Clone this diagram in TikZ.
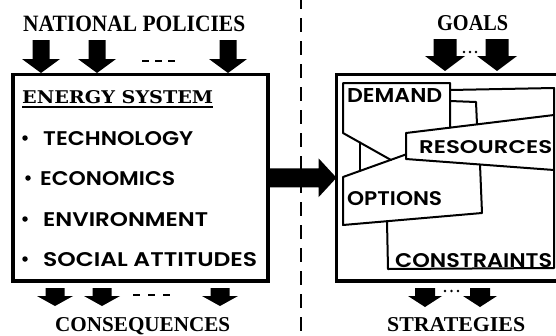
\documentclass[tikz,border=0pt]{standalone}
\usepackage{fontspec}
\usepackage{graphicx}
\usetikzlibrary{calc}
\setmainfont{Liberation Serif}
\newfontfamily\geo{Poppins}[BoldFont={Poppins SemiBold}]
\newfontfamily\slab{DejaVu Serif}
% scale a line of capitals to a given width and cap height
\newcommand{\fitbox}[3]{\resizebox{#1pt}{#2pt}{#3}}
\begin{document}
\begin{tikzpicture}[x=1pt,y=-1pt,
  heading/.style={anchor=base west, inner sep=0pt, font=\bfseries},
  label/.style={anchor=base west, inner sep=0pt, font=\geo\bfseries},
  frame/.style={draw, line width=3.2pt, inner sep=0pt, outer sep=0pt, anchor=north west},
  part/.style={draw, line width=2pt, line join=round, line cap=round},
  bullet/.style={fill, circle, inner sep=0pt, minimum size=5.5pt},
  pics/downarrow/.style args={#1/#2/#3/#4}{code={
    \fill (-#1/2,0) -- (#1/2,0) -- (#1/2,#3) -- (#2/2,#3) -- (0,#4)
          -- (-#2/2,#3) -- (-#1/2,#3) -- cycle;}}
]
\useasboundingbox (0,0) rectangle (556,335);

% divider between the two halves
\draw[line width=1.6pt, dash pattern=on 14pt off 9pt] (301,-5) -- (301,340);

% ---------------- left half: the energy system ----------------
\node[heading] (policies) at (23,31) {\fitbox{222}{15.5}{NATIONAL POLICIES}};
\node[frame, minimum width=255pt, minimum height=206.5pt] (system) at (13,74.5) {};

\pic at (41,40) {downarrow=17/38/19/33};
\pic at (97,40) {downarrow=17/38/19/33};
\pic at (228,40) {downarrow=17/38/19/33};
\draw[line width=2.5pt, dash pattern=on 6.5pt off 6.5pt] (142,61) -- (175,61);

\node[anchor=base west, inner sep=0pt, font=\slab\bfseries] (es) at (22,103) {\fitbox{191}{13}{ENERGY SYSTEM}};
\draw[line width=2pt] ([yshift=-4pt]es.base west) -- ([yshift=-4pt]es.base east);

\node[bullet] (b1) at (25,138) {};
\node[label] (tech) at (43,145) {\fitbox{150}{14}{TECHNOLOGY}};
\node[bullet] (b2) at (28,178) {};
\node[label] (econ) at (40,185) {\fitbox{135}{14}{ECONOMICS}};
\node[bullet] (b3) at (25,219) {};
\node[label] (env) at (43,226) {\fitbox{165}{14}{ENVIRONMENT}};
\node[bullet] (b4) at (25,259) {};
\node[label] (soc) at (43,266) {\fitbox{214}{14}{SOCIAL ATTITUDES}};

\pic at (55,288) {downarrow=19/36/8/18};
\pic at (102,288) {downarrow=19/36/8/18};
\pic at (220,288) {downarrow=19/36/8/18};
\draw[line width=2.5pt, dash pattern=on 7pt off 8pt] (133,295) -- (170,295);
\node[heading] (conseq) at (55,331) {\fitbox{175}{14}{CONSEQUENCES}};

% ---------------- right half: the planning model ----------------
\node[heading] (goals) at (437,30) {\fitbox{71}{15}{GOALS}};
\node[frame, minimum width=230pt, minimum height=206.5pt] (plan) at (336.5,74.5) {};

\pic at (445,39) {downarrow=23/40/17/32};
\pic at (497,39) {downarrow=23/40/17/32};
\foreach \d in {464,470,476} \fill (\d,52) circle (1.4pt);

% linking arrow from the system to the model
\path (system.east) coordinate (a0) (plan.west) coordinate (a1);
\fill ($(a0)+(0,-9.5)$) -- ($(a1)+(-18,-9.5)$) -- ($(a1)+(-18,-19.5)$) -- (a1)
      -- ($(a1)+(-18,19.5)$) -- ($(a1)+(-18,9.5)$) -- ($(a0)+(0,9.5)$) -- cycle;

% model compartments
\draw[part] (450,127.7) -- (450,83) -- (343,83) -- (343,133) -- (391,160);
\draw[part] (360,142.4) -- (360,171);
\draw[part] (450,90) -- (554,88);
\draw[part] (450,101) -- (476,102) -- (477,124.4);
\draw[part] (554,88) -- (554,268) -- (388,269) -- (387,221.2);
\draw[part] (554,115) -- (406,133) -- (406,159) -- (554,170);
\draw[part] (406,154.4) -- (343,177) -- (343,225) -- (482,213) -- (480,164.5);

\node[label] (demand) at (347,102) {\fitbox{95}{14}{DEMAND}};
\node[label] (res) at (419,153) {\fitbox{133}{13}{RESOURCES}};
\node[label] (opt) at (347,205) {\fitbox{95}{14}{OPTIONS}};
\node[label] (cons) at (395,267) {\fitbox{157}{14}{CONSTRAINTS}};

\pic at (425,288) {downarrow=20/34/8/19};
\pic at (480,288) {downarrow=20/34/8/19};
\foreach \d in {445,451.5,458} \fill (\d,291) circle (1.4pt);
\node[heading] (strat) at (387,331) {\fitbox{138}{14}{STRATEGIES}};
\end{tikzpicture}
\end{document}
